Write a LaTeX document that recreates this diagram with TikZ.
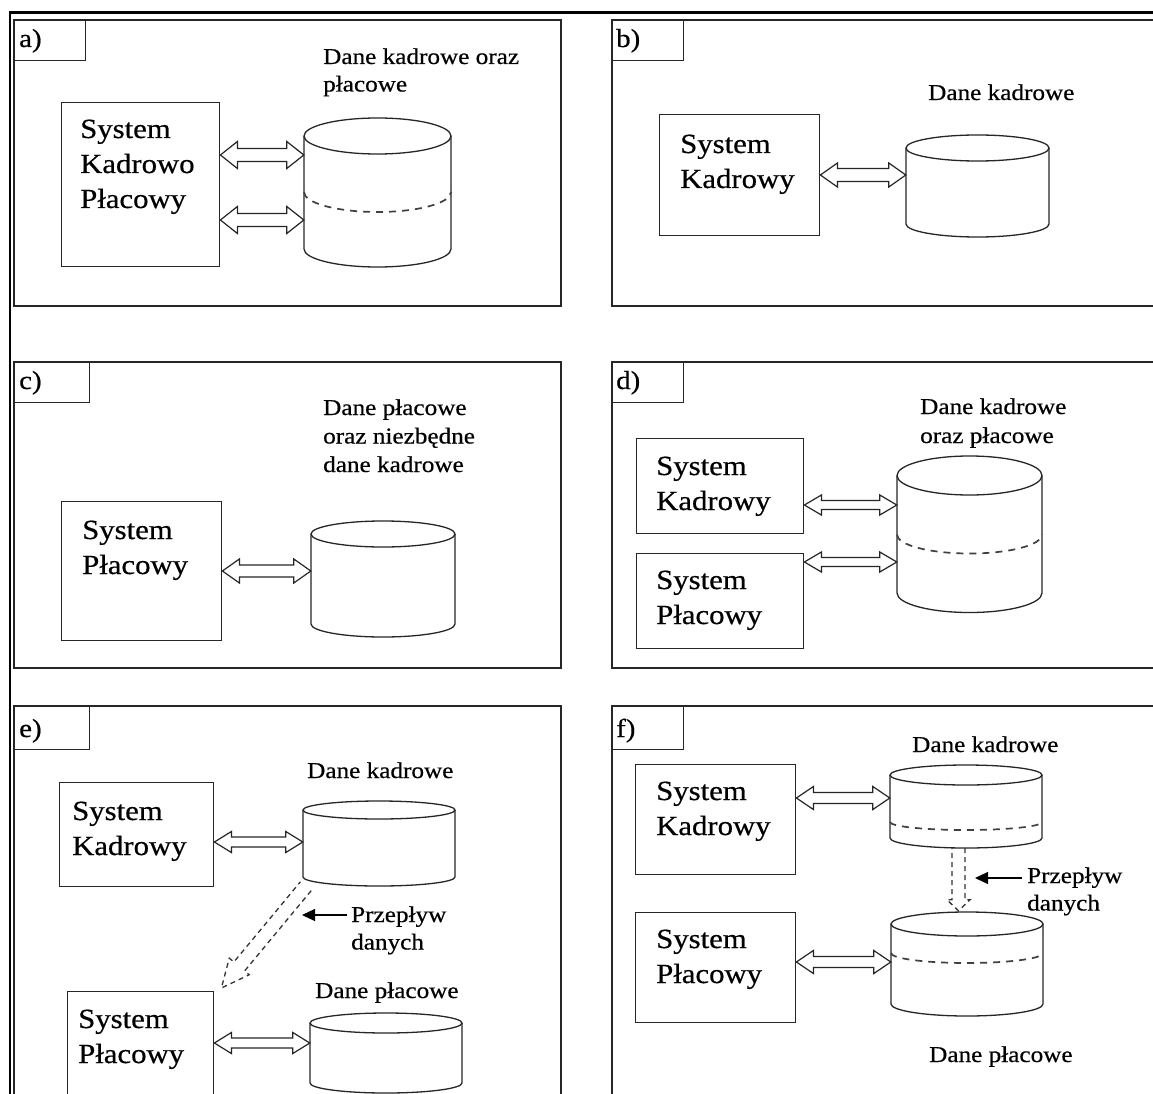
\documentclass[tikz,border=0pt]{standalone}
\usepackage{fontspec}
\setmainfont{Liberation Serif}[FakeStretch=1.11,FakeBold=0.5]
\usetikzlibrary{calc,arrows.meta}

\newcommand\ml[1]{\begin{tabular}[t]{@{}l@{}}#1\end{tabular}}

\tikzset{
  frameline/.style={draw=black, line width=2.2pt},
  panel/.style={draw=black!85, line width=1.4pt},
  lbox/.style={draw=black!85, line width=1.4pt, anchor=north west, inner sep=0},
  sysbox/.style={draw=black!85, line width=1.4pt, anchor=north west, inner sep=0},
  big/.style={font=\fontsize{27.7}{35}\selectfont, inner sep=0, anchor=base west},
  small/.style={font=\fontsize{22.7}{27.5}\selectfont, inner sep=0, anchor=base west},
  lbl/.style={font=\fontsize{26}{28}\selectfont, inner sep=0, anchor=base west},
  dbline/.style={draw=black!85, line width=1.3pt},
  cut/.style={draw=black!75, line width=1.7pt, dash pattern=on 7pt off 6pt},
  hollow/.style={draw=black!85, line width=1.2pt, fill=white},
  flow/.style={draw=black!80, line width=1.3pt, dash pattern=on 5pt off 4pt},
  pointer/.style={draw=black, line width=1.2pt, -{Triangle[length=13pt,width=12pt]}},
}

% hollow double arrow: from, to, half head width, half shaft width
\newcommand\hdbl[4]{%
 \draw[hollow] let \p1=(#1), \p2=(#2), \n1={veclen(\x2-\x1,\y2-\y1)}, \n2={atan2(\y2-\y1,\x2-\x1)} in
  [shift={(\p1)}, rotate=\n2]
  (0pt,0pt) -- (17pt,#3pt) -- (17pt,#4pt) -- (\n1-17pt,#4pt) -- (\n1-17pt,#3pt) -- (\n1+0pt,0pt)
  -- (\n1-17pt,-#3pt) -- (\n1-17pt,-#4pt) -- (17pt,-#4pt) -- (17pt,-#3pt) -- cycle;}

% dashed hollow single arrow, open at start: from, to, half shaft, half head, head length
\newcommand\hflow[5]{%
 \draw[flow] let \p1=(#1), \p2=(#2), \n1={veclen(\x2-\x1,\y2-\y1)}, \n2={atan2(\y2-\y1,\x2-\x1)} in
  [shift={(\p1)}, rotate=\n2]
  (0pt,#3pt) -- (\n1-#5pt,#3pt) -- (\n1-#5pt,#4pt) -- (\n1+0pt,0pt) -- (\n1-#5pt,-#4pt) -- (\n1-#5pt,-#3pt) -- (0pt,-#3pt);}

% cylinder: name, cx, y top centre, y bottom centre, rx, ry
\newcommand\dbcyl[6]{%
 \draw[dbline] ({#2-#5},#3) -- ({#2-#5},#4) arc[start angle=180,end angle=360,x radius=#5pt,y radius=#6pt] -- ({#2+#5},#3);
 \draw[dbline] (#2,#3) ellipse[x radius=#5pt,y radius=#6pt];
 \node[inner sep=0, minimum width={2*#5}, minimum height={#4-#3+2*#6}] (#1) at (#2,{(#3+#4)/2}) {};}

% dashed cut line: cx, y, rx, dip
\newcommand\dbcut[4]{%
 \draw[cut] ({#1-#3},#2) arc[start angle=180,end angle=360,x radius=#3pt,y radius=#4pt];}

\begin{document}
\begin{tikzpicture}[x=1pt,y=-1pt]
\useasboundingbox (0,0) rectangle (1153,1094);
\fill[white] (0,0) rectangle (1153,1094);
\clip (0,0) rectangle (1153,1094);

% outer frame
\draw[frameline] (1165,12.5) -- (10.2,12.5) -- (10.2,1100);

% ---------------- panel a
\draw[panel] (14,20) rectangle (561,306);
\node[lbox, minimum width=71, minimum height=40] (la) at (14,20) {};
\node[lbl] (ta) at (19,47) {a)};
\node[sysbox, minimum width=158, minimum height=164] (sa) at (61,102) {};
\node[big] (tsa) at (80,138) {\ml{System\\Kadrowo\\Płacowy}};
\dbcyl{dba}{377.5}{136}{249}{73.5}{18}
\dbcut{377.5}{192}{73.5}{20}
\node[small] (tda) at (323,64) {\ml{Dane kadrowe oraz\\płacowe}};
\hdbl{sa.east |- 0,155}{dba.west |- 0,155}{13.5}{6.5}
\hdbl{sa.east |- 0,220}{dba.west |- 0,220}{13.5}{6.5}

% ---------------- panel b
\draw[panel] (1165,20) -- (612,20) -- (612,306) -- (1165,306);
\node[lbox, minimum width=71, minimum height=40] (lb) at (612,20) {};
\node[lbl] (tb) at (616,47) {b)};
\node[sysbox, minimum width=160, minimum height=121] (sb) at (659,114) {};
\node[big] (tsb) at (680,153) {\ml{System\\Kadrowy}};
\dbcyl{dbb}{977.5}{148}{224}{71.5}{13}
\node[small] (tdb) at (928,100) {Dane kadrowe};
\hdbl{sb.east |- 0,175}{dbb.west |- 0,175}{12}{6.5}

% ---------------- panel c
\draw[panel] (14,362) rectangle (561,668);
\node[lbox, minimum width=75, minimum height=40] (lc) at (14,362) {};
\node[lbl] (tc) at (19,389) {c)};
\node[sysbox, minimum width=160, minimum height=139] (sc) at (61,501) {};
\node[big] (tsc) at (82,539) {\ml{System\\Płacowy}};
\dbcyl{dbc}{383}{534}{624}{72}{13}
\node[small, font=\fontsize{22.7}{28.5}\selectfont] (tdc) at (323,415) {\ml{Dane płacowe\\oraz niezbędne\\dane kadrowe}};
\hdbl{sc.east |- 0,571}{dbc.west |- 0,571}{12}{6}

% ---------------- panel d
\draw[panel] (1165,362) -- (612,362) -- (612,668) -- (1165,668);
\node[lbox, minimum width=71, minimum height=40] (ld) at (612,362) {};
\node[lbl] (td) at (616,389) {d)};
\node[sysbox, minimum width=167, minimum height=95] (sd1) at (636,438) {};
\node[big] (tsd1) at (656,475) {\ml{System\\Kadrowy}};
\node[sysbox, minimum width=167, minimum height=95] (sd2) at (636,553) {};
\node[big] (tsd2) at (656,589) {\ml{System\\Płacowy}};
\dbcyl{dbd}{969.5}{475.5}{593}{72.5}{19.5}
\dbcut{969.5}{534.5}{72.5}{19}
\node[small, font=\fontsize{22.7}{29}\selectfont] (tdd) at (920,414) {\ml{Dane kadrowe\\oraz płacowe}};
\hdbl{sd1.east |- 0,505}{dbd.west |- 0,505}{10}{4.5}
\hdbl{sd2.east |- 0,562}{dbd.west |- 0,562}{10}{4.5}

% ---------------- panel e
\draw[panel] (14,1100) -- (14,706) -- (561,706) -- (561,1100);
\node[lbox, minimum width=75, minimum height=43] (le) at (14,706) {};
\node[lbl] (te) at (19,737) {e)};
\node[sysbox, minimum width=154, minimum height=104] (se1) at (59,782) {};
\node[big] (tse1) at (72,820) {\ml{System\\Kadrowy}};
\dbcyl{dbe1}{379}{810}{877}{76}{9}
\node[small] (tde1) at (307,778) {Dane kadrowe};
\hdbl{se1.east |- 0,842}{dbe1.west |- 0,842}{10.5}{5}
\node[sysbox, minimum width=146, minimum height=120] (se2) at (67,991) {};
\node[big] (tse2) at (78,1028) {\ml{System\\Płacowy}};
\dbcyl{dbe2}{386}{1023}{1083}{76}{10}
\node[small] (tde2) at (315,998) {Dane płacowe};
\hdbl{se2.east |- 0,1043}{dbe2.west |- 0,1043}{10.5}{5}
\coordinate (fe1) at ($(dbe1.south west)+(3,0)$);
\coordinate (fe2) at ($(se2.north east)+(7,-3)$);
\hflow{fe1}{fe2}{7}{13}{28}
\node[small] (pe) at (351,922) {\ml{Przepływ\\danych}};
\coordinate (pe0) at ($(pe.west |- 0,915)+(-4,0)$);
\coordinate (pe1) at (302,915);
\draw[pointer] (pe0) -- (pe1);

% ---------------- panel f
\draw[panel] (1165,706) -- (612,706) -- (612,1100);
\node[lbox, minimum width=71, minimum height=43] (lf) at (612,706) {};
\node[lbl] (tf) at (616,737) {f)};
\node[sysbox, minimum width=160, minimum height=110] (sf1) at (635,764) {};
\node[big] (tsf1) at (656,800) {\ml{System\\Kadrowy}};
\node[sysbox, minimum width=160, minimum height=110] (sf2) at (635,912) {};
\node[big] (tsf2) at (656,948) {\ml{System\\Płacowy}};
\dbcyl{dbf1}{966}{775}{838}{76}{10}
\dbcut{966}{822}{76}{8}
\dbcyl{dbf2}{967}{924}{1004}{76}{12}
\dbcut{967}{953}{76}{10}
\node[small] (tdf1) at (912,752) {Dane kadrowe};
\node[small] (tdf2) at (929,1062) {Dane płacowe};
\hdbl{sf1.east |- 0,798}{dbf1.west |- 0,798}{11.5}{5.5}
\hdbl{sf2.east |- 0,962}{dbf2.west |- 0,962}{11.5}{5.5}
\coordinate (ff1) at ($(dbf1.south)+(-7.5,0)$);
\coordinate (ff2) at ($(dbf2.north)+(-8.5,-1)$);
\hflow{ff1}{ff2}{6.5}{11.5}{11}
\node[small] (pf) at (1027,883) {\ml{Przepływ\\danych}};
\coordinate (pf0) at ($(pf.west |- 0,878)+(-5,0)$);
\coordinate (pf1) at (975,878);
\draw[pointer] (pf0) -- (pf1);
\end{tikzpicture}
\end{document}
